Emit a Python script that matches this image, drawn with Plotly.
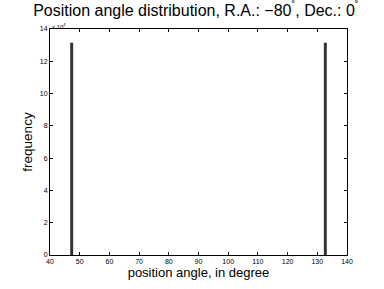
import plotly.graph_objects as go

# Data
angles = [47.3, 132.7]          # position angle bin centers (degree)
counts = [131500, 131500]       # frequency
bar_width = 1.0
x_ticks = [40, 50, 60, 70, 80, 90, 100, 110, 120, 130, 140]
y_ticks = [0, 20000, 40000, 60000, 80000, 100000, 120000, 140000]
y_tick_labels = ["0", "2", "4", "6", "8", "10", "12", "14"]

fig = go.Figure()
fig.add_trace(go.Bar(
    x=angles, y=counts, width=bar_width,
    marker=dict(color="#333333", line=dict(width=0)),
    hoverinfo="skip",
))

fig.update_layout(
    width=384, height=289,
    margin=dict(l=50, r=37, t=29, b=34, autoexpand=False),
    paper_bgcolor="white", plot_bgcolor="white",
    showlegend=False,
    font=dict(family="Liberation Sans, Arial, sans-serif", color="black"),
    title=dict(
        text="Position angle distribution, R.A.: \u221280<sup>\u02da</sup>, Dec.: 0<sup>\u02da</sup>",
        x=0.51, xanchor="center", y=0.985, yanchor="top",
        font=dict(size=16),
    ),
    xaxis=dict(
        range=[40, 140], tickvals=x_ticks, ticks="inside", ticklen=3,
        tickcolor="black", tickfont=dict(size=7), showgrid=False, zeroline=False,
        showline=True, linecolor="black", linewidth=1, mirror="ticks",
        automargin=False,
        title=dict(text="position angle, in degree", font=dict(size=13), standoff=3),
    ),
    yaxis=dict(
        range=[0, 140000], tickvals=y_ticks, ticktext=y_tick_labels,
        ticks="inside", ticklen=3, tickcolor="black", tickfont=dict(size=7),
        showgrid=False, zeroline=False, automargin=False,
        showline=True, linecolor="black", linewidth=1, mirror="ticks",
        title=dict(text="frequency", font=dict(size=13.5), standoff=4),
    ),
    annotations=[dict(
        text="x 10<sup>4</sup>", xref="paper", yref="paper", x=0.0, y=1.0,
        xanchor="left", yanchor="bottom", showarrow=False, font=dict(size=6),
        yshift=-3,
    )],
)

fig.write_html(
    "out.html",
    config={"displayModeBar": False},
    post_script="document.body.style.margin='0';document.body.style.overflow='hidden';",
)
